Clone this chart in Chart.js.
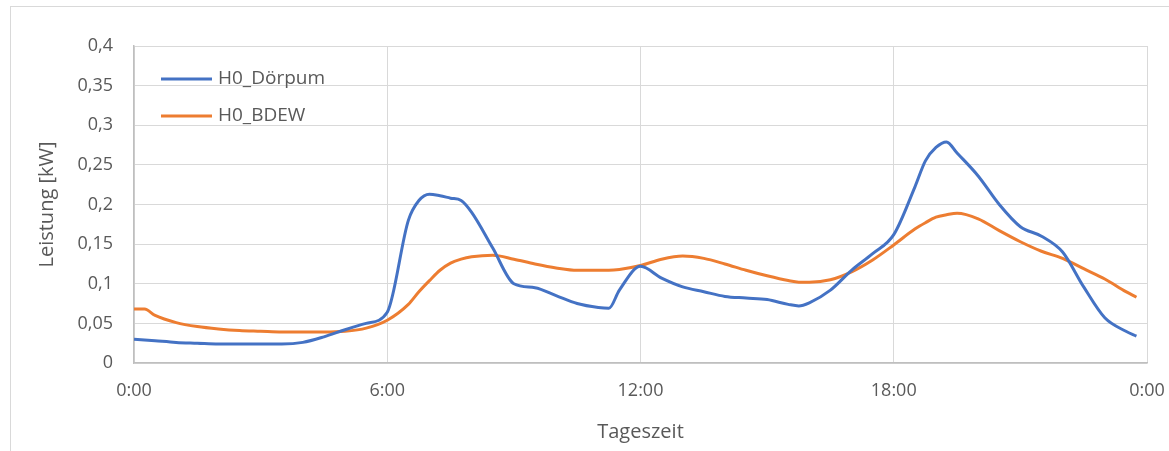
<!DOCTYPE html>
<html>
<head>
<meta charset="utf-8">
<script src="https://cdn.jsdelivr.net/npm/chart.js@4"></script>
<style>
  html, body { margin: 0; padding: 0; background: #fff; }
  #wrap { position: relative; width: 1169px; height: 451px; overflow: hidden; }
  #frame {
    position: absolute; left: 10px; top: 6px; width: 1200px; height: 500px;
    border: 1px solid #d9d9d9;
  }
  canvas { position: absolute; left: 0; top: 0; }
</style>
</head>
<body>
<div id="wrap">
  <div id="frame"></div>
  <canvas id="loadChart" width="1169" height="451"></canvas>
</div>
<script>
// time of day in hours
const hours = [
  0, 0.25, 0.5, 1, 1.5, 2, 2.5, 3, 3.5, 4, 4.5, 5, 5.5, 6, 6.5, 6.75, 7, 7.25, 7.5, 7.75,
  8, 8.5, 9, 9.5, 10, 10.5, 11, 11.25, 11.5, 12, 12.5, 13, 13.5, 14, 14.5, 15, 15.5, 15.75,
  16, 16.5, 17, 17.5, 18, 18.5, 18.75, 19, 19.25, 19.5, 20, 20.5, 21, 21.5, 22, 22.5,
  23, 23.5, 23.75
];

const h0Doerpum = [
  0.030, 0.029, 0.028, 0.026, 0.025, 0.024, 0.024, 0.024, 0.024, 0.026, 0.033, 0.042, 0.050,
  0.064, 0.180, 0.205, 0.213, 0.211, 0.208, 0.205,
  0.190, 0.145, 0.100, 0.095, 0.085, 0.075, 0.070, 0.069, 0.092, 0.122, 0.107, 0.096,
  0.090, 0.084, 0.082, 0.080, 0.074, 0.072,
  0.076, 0.092, 0.117, 0.138, 0.162, 0.222, 0.255, 0.272, 0.279, 0.265, 0.236, 0.200,
  0.172, 0.160, 0.140, 0.096, 0.057, 0.040, 0.034
];

const h0Bdew = [
  0.068, 0.068, 0.060, 0.051, 0.046, 0.043, 0.041, 0.040, 0.039, 0.039, 0.039, 0.040, 0.044,
  0.054, 0.074, 0.090, 0.104, 0.117, 0.126, 0.131,
  0.134, 0.136, 0.131, 0.125, 0.120, 0.117, 0.117, 0.117, 0.118, 0.123, 0.131, 0.135,
  0.132, 0.125, 0.117, 0.110, 0.104, 0.102,
  0.102, 0.105, 0.115, 0.130, 0.149, 0.169, 0.177, 0.184, 0.187, 0.189, 0.182, 0.167,
  0.153, 0.141, 0.132, 0.119, 0.106, 0.090, 0.083
];

const seriesNames = ["H0_Dörpum", "H0_BDEW"];
const seriesColors = ["#4472C4", "#ED7D31"];

const FONT = "'Open Sans', sans-serif";
const TEXT = "#595959";

function toPoints(values) {
  return values.map((v, i) => ({ x: hours[i], y: v }));
}

// legend drawn inside the plot, top left
const innerLegend = {
  id: "innerLegend",
  afterDraw(chart) {
    const ctx = chart.ctx;
    const left = chart.chartArea.left + 27;
    let y = chart.chartArea.top + 33;
    ctx.save();
    chart.data.datasets.forEach(ds => {
      ctx.strokeStyle = ds.borderColor;
      ctx.lineWidth = 3;
      ctx.beginPath();
      ctx.moveTo(left, y);
      ctx.lineTo(left + 51, y);
      ctx.stroke();
      ctx.fillStyle = TEXT;
      ctx.font = "19px " + FONT;
      ctx.textBaseline = "middle";
      ctx.fillText(ds.label, left + 57, y);
      y += 37;
    });
    ctx.restore();
  }
};

new Chart(document.getElementById("loadChart"), {
  type: "line",
  data: {
    datasets: [
      {
        label: seriesNames[0],
        data: toPoints(h0Doerpum),
        borderColor: seriesColors[0],
        borderWidth: 3,
        pointRadius: 0,
        cubicInterpolationMode: "monotone"
      },
      {
        label: seriesNames[1],
        data: toPoints(h0Bdew),
        borderColor: seriesColors[1],
        borderWidth: 3,
        pointRadius: 0,
        cubicInterpolationMode: "monotone"
      }
    ]
  },
  options: {
    responsive: false,
    animation: false,
    layout: { padding: { left: 11, right: 22, top: 46, bottom: 0 } },
    plugins: {
      legend: { display: false },
      tooltip: { enabled: false }
    },
    scales: {
      x: {
        type: "linear",
        min: 0,
        max: 24,
        afterFit: s => {
          s.height = 88;
          s.paddingLeft = 0;
          s.paddingRight = 0;
        },
        ticks: {
          stepSize: 6,
          padding: 17,
          color: TEXT,
          font: { family: FONT, size: 18 },
          callback: v => (v % 24) + ":00"
        },
        grid: { color: "#d9d9d9", drawTicks: false },
        border: { color: "#bfbfbf", width: 1.5 },
        title: {
          display: true,
          text: "Tageszeit",
          color: TEXT,
          font: { family: FONT, size: 20 },
          padding: { top: 4, bottom: 7 }
        }
      },
      y: {
        min: 0,
        max: 0.4,
        afterFit: s => { s.width = 123; },
        ticks: {
          stepSize: 0.05,
          padding: 21,
          color: TEXT,
          font: { family: FONT, size: 18 },
          callback: v => v.toLocaleString("de-DE", { maximumFractionDigits: 2 })
        },
        grid: { color: "#d9d9d9", drawTicks: false },
        border: { color: "#bfbfbf", width: 1.5 },
        title: {
          display: true,
          text: "Leistung [kW]",
          color: TEXT,
          font: { family: FONT, size: 20 },
          padding: { top: 24, bottom: 0 }
        }
      }
    }
  },
  plugins: [innerLegend]
});
</script>
</body>
</html>
